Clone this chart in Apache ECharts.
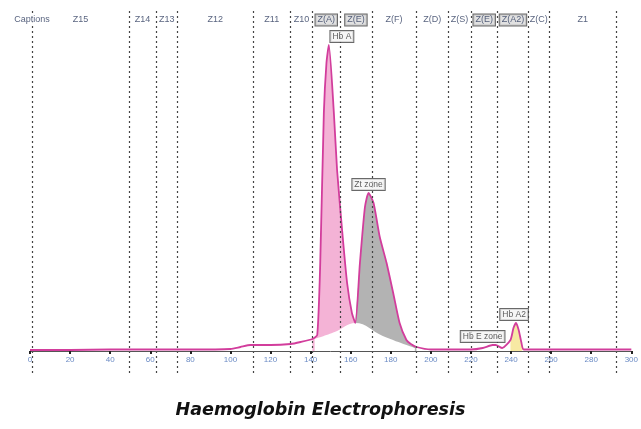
<!DOCTYPE html>
<html>
<head>
<meta charset="utf-8">
<script src="https://cdn.jsdelivr.net/npm/echarts@6/dist/echarts.min.js"></script>
<style>
  html, body { margin: 0; padding: 0; background: #fff; }
  #chart { width: 641px; height: 429px; }
</style>
</head>
<body>
<div id="chart"></div>
<script>
// electrophoresis trace: migration position and signal height
const profileX = [0, 20, 40, 60, 80, 100, 105, 110, 120, 130, 135, 140.9, 143.3, 144.8, 146.6, 147.9, 149.1, 151.6, 153.2, 155.7, 158.2, 160.6, 162.3, 164.6, 167.1, 168.9, 171.4, 174.5, 177.9, 181.2, 184.4, 187.8, 190, 192.8, 200, 220, 225.9, 230.8, 232.3, 235.6, 239.7, 241.2, 242.5, 243.8, 245.1, 246.3, 260, 280, 300];
const profileY = [1, 1, 1.5, 1.5, 1.5, 2, 4, 6, 6, 7, 9, 12, 16, 88, 238, 288, 306, 238, 181, 121, 68, 38, 28, 88, 144, 158, 148, 114, 88, 58, 28, 11, 7, 4, 1.5, 1.5, 3, 6, 6, 3, 11, 23, 28, 21, 9, 1.5, 1.5, 1.5, 1.5];

// shaded fractions (x points taken from the trace)
const hbaFillX = [140.9, 143.3, 144.8, 146.6, 147.9, 149.1, 151.6, 153.2, 155.7, 158.2, 160.6, 162.3];
const ztFillX = [162.3, 164.6, 167.1, 168.9, 171.4, 174.5, 177.9, 181.2, 184.4, 187.8, 190, 192.8];
const a2FillX = [239.7, 241.2, 242.5, 243.8, 245.1, 246.3];
// unshaded area below the two main fractions
const gapX = [142, 152, 162.3, 176, 192];
const gapY = [12, 19, 28, 15, 3];

// zone borders and zone names
const zoneEdges = [1, 49.4, 62.8, 73.6, 111.2, 130, 140.9, 154.7, 170.5, 192.8, 208.6, 219.9, 233.3, 248.6, 259, 292.6];
const zoneNames = ["Z15", "Z14", "Z13", "Z12", "Z11", "Z10", "Z(A)", "Z(E)", "Z(F)", "Z(D)", "Z(S)", "Z(E)", "Z(A2)", "Z(C)", "Z1"];
const boxedZones = [6, 7, 11, 12];

// peak annotations
const peakNames = ["Hb A", "Zt zone", "Hb E zone", "Hb A2"];
const peakX = [149.1, 168.9, 230.8, 242.5];
const peakY = [306, 158, 6, 28];

const curveAt = x => profileY[profileX.indexOf(x)];
const SMOOTH = 0.2;

const chart = echarts.init(document.getElementById("chart"));

const zoneLabels = [{
    value: [zoneEdges[0], 331],
    label: { formatter: "Captions" }
}].concat(zoneNames.map((name, i) => {
    const boxed = boxedZones.includes(i);
    return {
        value: [(zoneEdges[i] + zoneEdges[i + 1]) / 2, 331],
        label: boxed
            ? { formatter: name, backgroundColor: "#d9d9d9", borderColor: "#444", borderWidth: 1, padding: [1, 2] }
            : { formatter: name }
    };
}));

const peakOffsets = [[13, 0], [0, 0], [-10, 0], [-2, 0]];
const peakLabels = peakNames.map((name, i) => ({
    value: [peakX[i], peakY[i]],
    label: { formatter: name, offset: peakOffsets[i] }
}));

const hidden = { opacity: 0 };

const option = {
    animation: false,
    title: {
        text: "Haemoglobin Electrophoresis",
        left: "center",
        top: 396,
        textStyle: {
            fontFamily: "DejaVu Sans",
            fontStyle: "italic",
            fontWeight: "bold",
            fontSize: 17.5,
            color: "#111"
        }
    },
    grid: { left: 30, right: 4, top: 11, bottom: 56 },
    xAxis: {
        type: "value",
        min: 0,
        max: 300,
        interval: 20,
        z: 5,
        axisLine: { onZero: true, lineStyle: { color: "#555", width: 1 } },
        axisTick: { length: 3, lineStyle: { color: "#222", width: 2 } },
        axisLabel: { fontSize: 8, color: "#6a8ac4", margin: -17, fontFamily: "Liberation Sans" },
        splitLine: { show: false }
    },
    yAxis: { type: "value", min: -22, max: 340, show: false },
    series: [
        // Hb A fraction
        {
            type: "line", symbol: "none", smooth: SMOOTH, z: 2,
            lineStyle: hidden,
            areaStyle: { color: "#f4b3d6", opacity: 1 },
            data: hbaFillX.map(x => [x, curveAt(x)])
        },
        // Zt zone fraction
        {
            type: "line", symbol: "none", smooth: SMOOTH, z: 2,
            lineStyle: hidden,
            areaStyle: { color: "#b3b3b3", opacity: 1 },
            data: ztFillX.map(x => [x, curveAt(x)])
        },
        // Hb A2 fraction
        {
            type: "line", symbol: "none", smooth: SMOOTH, z: 2,
            lineStyle: hidden,
            areaStyle: { color: "#f7e9a3", opacity: 1 },
            data: a2FillX.map(x => [x, curveAt(x)])
        },
        // unshaded part under the fractions
        {
            type: "line", symbol: "none", smooth: 0.4, z: 2.5,
            lineStyle: hidden,
            areaStyle: { color: "#fff", opacity: 1 },
            data: gapX.map((x, i) => [x, gapY[i]])
        },
        // trace
        {
            type: "line", symbol: "none", smooth: SMOOTH, z: 3,
            lineStyle: { color: "#d23d9c", width: 1.8 },
            data: profileX.map((x, i) => [x, profileY[i]]),
            markLine: {
                silent: true,
                symbol: ["none", "none"],
                label: { show: false },
                lineStyle: { type: [2, 3], color: "#444", width: 1.2 },
                z: 4,
                data: zoneEdges.map(v => ({ xAxis: v }))
            }
        },
        // zone names
        {
            type: "scatter", symbolSize: 0, z: 6, silent: true,
            label: {
                show: true, position: "inside",
                fontSize: 9, color: "#2d3b5e", fontFamily: "Liberation Sans",
                backgroundColor: "#fff"
            },
            data: zoneLabels
        },
        // peak names
        {
            type: "scatter", symbolSize: 0, z: 6, silent: true,
            label: {
                show: true, position: "top", distance: 3,
                fontSize: 8.5, color: "#333", fontFamily: "Liberation Sans",
                backgroundColor: "#f4f4f4", borderColor: "#444", borderWidth: 1,
                padding: [1, 2]
            },
            data: peakLabels
        }
    ]
};

chart.setOption(option);
</script>
</body>
</html>
